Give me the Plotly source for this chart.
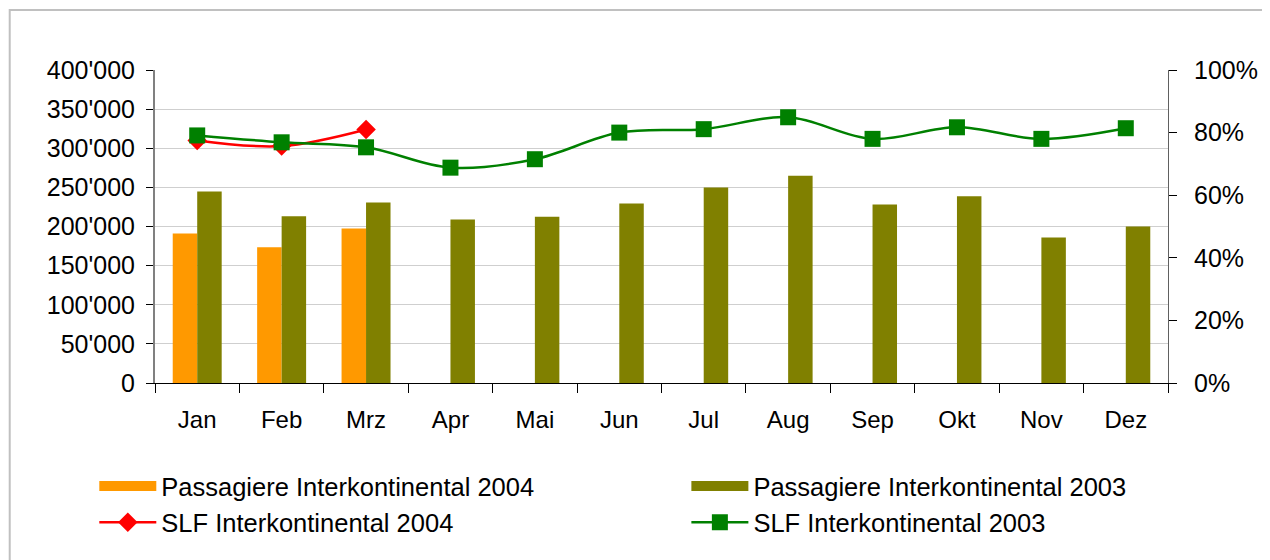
import plotly.graph_objects as go

months = ["Jan", "Feb", "Mrz", "Apr", "Mai", "Jun", "Jul", "Aug", "Sep", "Okt", "Nov", "Dez"]
pax_2004 = [191000, 173500, 197500, None, None, None, None, None, None, None, None, None]
pax_2003 = [244800, 213000, 230800, 209000, 212500, 229500, 250000, 265000, 228000, 238500, 186000, 200000]
slf_2004 = [0.775, 0.757, 0.810]
slf_2003 = [0.791, 0.769, 0.753, 0.688, 0.715, 0.800, 0.811, 0.849, 0.780, 0.817, 0.780, 0.814]

names = ["Passagiere Interkontinental 2004", "Passagiere Interkontinental 2003",
         "SLF Interkontinental 2004", "SLF Interkontinental 2003"]
ORANGE, OLIVE, RED, GREEN = "#FF9900", "#808000", "#FF0000", "#008000"

FONT = "Liberation Sans, Arial, sans-serif"

fig = go.Figure()
fig.add_trace(go.Bar(x=months, y=pax_2004, name=names[0], showlegend=False,
                     marker=dict(color=ORANGE, line=dict(width=0))))
fig.add_trace(go.Bar(x=months, y=pax_2003, name=names[1], showlegend=False,
                     marker=dict(color=OLIVE, line=dict(width=0))))
# legend proxies for the bars: wide filled swatches like the original legend
fig.add_trace(go.Scatter(x=[None], y=[None], name=names[0], mode="lines",
                         line=dict(color=ORANGE, width=17), legend="legend"))
fig.add_trace(go.Scatter(x=[None], y=[None], name=names[1], mode="lines",
                         line=dict(color=OLIVE, width=17), legend="legend2"))
fig.add_trace(go.Scatter(x=months[:len(slf_2004)], y=slf_2004, name=names[2],
                         mode="lines+markers", yaxis="y2",
                         line=dict(color=RED, width=2.5, shape="spline", smoothing=1),
                         marker=dict(symbol="diamond", size=15, color=RED),
                         legend="legend"))
fig.add_trace(go.Scatter(x=months, y=slf_2003, name=names[3],
                         mode="lines+markers", yaxis="y2",
                         line=dict(color=GREEN, width=2.5, shape="spline", smoothing=1),
                         marker=dict(symbol="square", size=16, color=GREEN),
                         legend="legend2"))

# the page body has an 8px margin; the figure is shifted so the plot lands where intended
OFF = 8
W, H = 1270 - OFF, 560 - OFF
L, R, T, B = 155 - OFF, 97, 70 - OFF, 177
pw, ph = W - L - R, H - T - B

def px(x):
    return (x - OFF - L) / pw

def py(y):
    return (H - B - (y - OFF)) / ph

fig.update_layout(
    width=W, height=H,
    margin=dict(l=L, r=R, t=T, b=B, pad=0),
    paper_bgcolor="white", plot_bgcolor="white",
    separators=".'",
    font=dict(family=FONT, size=24, color="black"),
    barmode="group", bargap=0.42, bargroupgap=0,
    showlegend=True,
    xaxis=dict(
        type="category", range=[-0.5, 11.5],
        showline=True, linecolor="black", linewidth=1,
        ticks="outside", tickson="boundaries", ticklen=9, tickcolor="black",
        ticklabelstandoff=15, showgrid=False,
        tickfont=dict(size=24, family=FONT),
    ),
    yaxis=dict(
        range=[0, 400000], dtick=50000, tickformat=",d",
        showline=True, linecolor="#808080", linewidth=2,
        ticks="outside", ticklen=7, tickcolor="black",
        ticklabelstandoff=6,
        showgrid=True, gridcolor="#cfcfcf", gridwidth=1,
        zeroline=False,
        tickfont=dict(size=25, family=FONT),
    ),
    yaxis2=dict(
        range=[0, 1], dtick=0.2, tickformat=".0%",
        overlaying="y", side="right",
        showline=True, linecolor="#606060", linewidth=1,
        ticks="outside", ticklen=8, tickcolor="black",
        ticklabelstandoff=12,
        showgrid=False, zeroline=False,
        tickfont=dict(size=25, family=FONT),
    ),
    legend=dict(
        x=px(94), y=py(463), xanchor="left", yanchor="top",
        orientation="v", font=dict(size=25.5, family=FONT),
        bgcolor="rgba(0,0,0,0)", tracegroupgap=0, itemwidth=57,
    ),
    legend2=dict(
        x=px(689), y=py(463), xanchor="left", yanchor="top",
        orientation="v", font=dict(size=25.5, family=FONT),
        bgcolor="rgba(0,0,0,0)", tracegroupgap=0, itemwidth=57,
    ),
    shapes=[dict(type="rect", xref="paper", yref="paper",
                 x0=px(9), x1=px(1290), y0=py(600), y1=py(10),
                 line=dict(color="#c0c0c0", width=2), fillcolor="rgba(0,0,0,0)",
                 layer="below")],
)

fig.write_html("out.html")
